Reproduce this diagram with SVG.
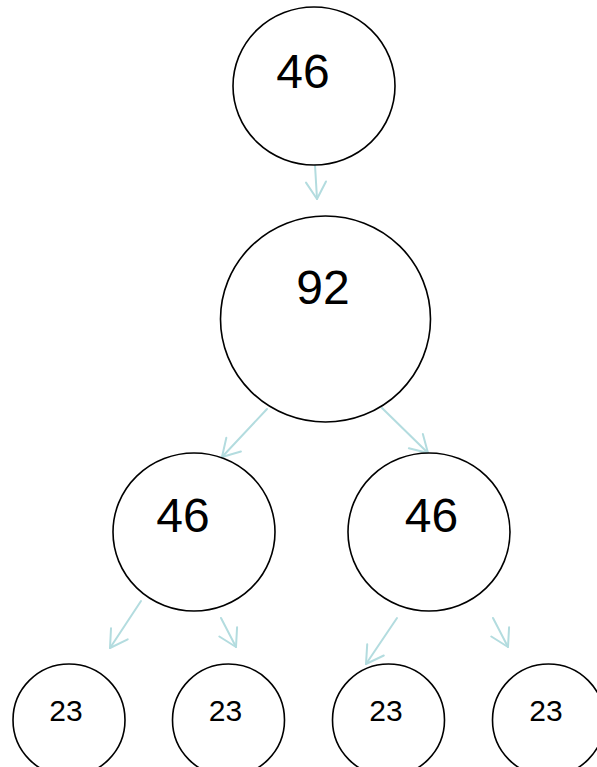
<svg xmlns="http://www.w3.org/2000/svg" width="597" height="767" viewBox="0 0 597 767">
  <defs>
    <style>
      .node { fill: #ffffff; stroke: #000000; stroke-width: 1.6; }
      .lbl { font-family: "Liberation Sans", Arial, sans-serif; fill: #000000; text-anchor: middle; }
      .big { font-size: 48px; }
      .small { font-size: 30px; }
      .edge { stroke: #b3dcdf; stroke-width: 2; fill: none; stroke-linecap: round; }
    </style>
    <marker id="arrow" markerUnits="userSpaceOnUse" markerWidth="40" markerHeight="40" viewBox="-20 -20 40 40" refX="0" refY="0" orient="auto">
      <path d="M-17,-10 L0,0 L-17,10" fill="none" stroke="#b3dcdf" stroke-width="2" stroke-linecap="round" stroke-linejoin="round"/>
    </marker>
  </defs>
  <rect width="597" height="767" fill="#ffffff"/>

  <g id="connectors">
    <line class="edge" x1="315" y1="165" x2="317" y2="199" marker-end="url(#arrow)"/>
    <line class="edge" x1="267" y1="409" x2="222" y2="457" marker-end="url(#arrow)"/>
    <line class="edge" x1="382" y1="408" x2="428" y2="453" marker-end="url(#arrow)"/>
    <line class="edge" x1="141" y1="601" x2="110" y2="648" marker-end="url(#arrow)"/>
    <line class="edge" x1="221" y1="618" x2="236" y2="647" marker-end="url(#arrow)"/>
    <line class="edge" x1="397" y1="618" x2="366" y2="664" marker-end="url(#arrow)"/>
    <line class="edge" x1="493" y1="618" x2="508" y2="647" marker-end="url(#arrow)"/>
  </g>

  <g id="node-root">
    <ellipse class="node" cx="314" cy="86" rx="81" ry="79"/>
    <text class="lbl big" x="303" y="88">46</text>
  </g>
  <g id="node-92">
    <ellipse class="node" cx="325.5" cy="319" rx="105" ry="103"/>
    <text class="lbl big" x="323" y="304">92</text>
  </g>
  <g id="node-left">
    <ellipse class="node" cx="194" cy="532" rx="81" ry="79"/>
    <text class="lbl big" x="183" y="532">46</text>
  </g>
  <g id="node-right">
    <ellipse class="node" cx="429" cy="532" rx="81" ry="79"/>
    <text class="lbl big" x="431.5" y="532">46</text>
  </g>
  <g id="leaf-1">
    <ellipse class="node" cx="69" cy="720" rx="56" ry="56"/>
    <text class="lbl small" x="66" y="721">23</text>
  </g>
  <g id="leaf-2">
    <ellipse class="node" cx="228.5" cy="720" rx="56" ry="56"/>
    <text class="lbl small" x="225.5" y="721">23</text>
  </g>
  <g id="leaf-3">
    <ellipse class="node" cx="388.5" cy="720" rx="56" ry="56"/>
    <text class="lbl small" x="386" y="721">23</text>
  </g>
  <g id="leaf-4">
    <ellipse class="node" cx="548.5" cy="720" rx="56" ry="56"/>
    <text class="lbl small" x="546" y="721">23</text>
  </g>
</svg>
